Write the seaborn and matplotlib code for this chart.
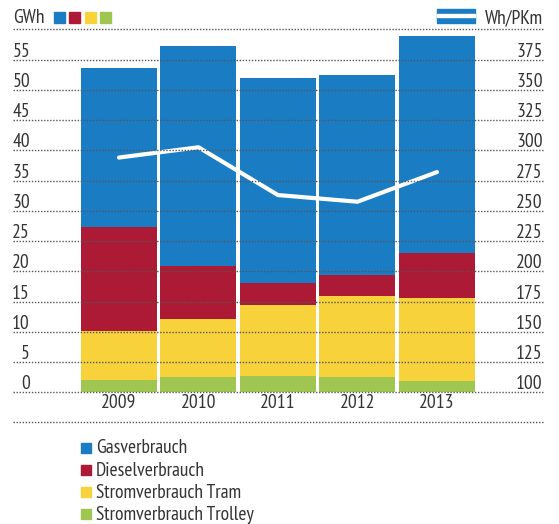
import numpy as np
import matplotlib
matplotlib.use("Agg")
import matplotlib.pyplot as plt
import matplotlib.transforms as mtransforms
from matplotlib.patches import Rectangle
from matplotlib.lines import Line2D
import seaborn as sns

# values
years = ["2009", "2010", "2011", "2012", "2013"]
gas = [26.3, 36.3, 33.85, 33.0, 35.9]
diesel = [17.2, 8.8, 3.7, 3.5, 7.4]
tram = [8.1, 9.5, 11.7, 13.3, 13.7]
trolley = [2.0, 2.6, 2.7, 2.6, 1.9]
wh_pkm = [294, 302.5, 263, 257.5, 282]

gwh_ticks = list(range(0, 60, 5))
whpkm_ticks = list(range(100, 400, 25))

series_names = ["Gasverbrauch", "Dieselverbrauch", "Stromverbrauch Tram", "Stromverbrauch Trolley"]
colors = ["#1a7dc4", "#ad1a35", "#f8d23a", "#9ec651"]
text_color = "#333333"
grid_color = "#555555"

sns.set_style("white")
plt.rcParams["font.family"] = ["PT Sans Narrow", "Liberation Sans", "DejaVu Sans"]

W, H = 559, 524
FS = 14


def fx(px):
    return px / W


def fy(py):
    return 1 - py / H


fig = plt.figure(figsize=(W / 100, H / 100), dpi=100)
ax = fig.add_axes([fx(12.7), fy(392.3), (542.7 - 12.7) / W, (392.3 - 29.3) / H])

# stacked bars: draw cumulative totals, biggest first
stack = np.cumsum([trolley, tram, diesel, gas], axis=0)
stack_colors = colors[::-1]
for i in range(3, -1, -1):
    sns.barplot(x=years, y=stack[i], color=stack_colors[i], width=0.956,
                saturation=1, errorbar=None, linewidth=0, ax=ax, zorder=2)

ax2 = ax.twinx()
sns.lineplot(x=np.arange(len(years)), y=wh_pkm, ax=ax2, color="white",
             linewidth=3, zorder=3)

ax.set_xlim(-1.337, 5.33)
ax.set_ylim(0, 60)
ax2.set_ylim(100, 400)

for a in (ax, ax2):
    for s in a.spines.values():
        s.set_visible(False)
    a.set_yticks([])
    a.set_ylabel("")
ax.set_xlabel("")

ax.set_xticks(range(len(years)))
ax.set_xticklabels(years, fontsize=FS, color=text_color)
ax.tick_params(axis="x", length=0, pad=1)

# dotted grid on top of the bars
for v in range(0, 65, 5):
    ax2.axhline(100 + 5 * v, color=grid_color, lw=1, ls=(0, (1, 1.2)),
                zorder=5, clip_on=False)

# tick labels sitting just above each gridline
left_tr = mtransforms.offset_copy(
    mtransforms.blended_transform_factory(ax.transAxes, ax.transData),
    fig=fig, y=3, units="dots")
for v in gwh_ticks:
    ax.text((30 - 12.7) / 530, v, str(v), transform=left_tr, ha="right",
            va="baseline", fontsize=FS, color=text_color)
right_tr = mtransforms.offset_copy(
    mtransforms.blended_transform_factory(ax2.transAxes, ax2.transData),
    fig=fig, y=3, units="dots")
for v in whpkm_ticks:
    ax2.text(1, v, str(v), transform=right_tr, ha="right", va="baseline",
             fontsize=FS, color=text_color)

# header: units and colour keys
fig.text(fx(13), fy(23), "GWh", ha="left", va="baseline", fontsize=FS,
         color=text_color)
for i, x0 in enumerate([54.3, 69.3, 84.8, 100.0]):
    fig.add_artist(Rectangle((fx(x0), fy(23.3)), 10.7 / W, 11 / H,
                             transform=fig.transFigure, color=colors[i]))
fig.add_artist(Rectangle((fx(436.7), fy(23)), 38.3 / W, 14 / H,
                         transform=fig.transFigure, color=colors[0]))
fig.add_artist(Rectangle((fx(436.7), fy(17)), 38.3 / W, 3 / H,
                         transform=fig.transFigure, color="white"))
fig.text(fx(543), fy(23), "Wh/PKm", ha="right", va="baseline", fontsize=FS,
         color=text_color)

# bottom separator
fig.add_artist(Line2D([fx(12.7), fx(542.7)], [fy(422.3)] * 2,
                      transform=fig.transFigure, color=grid_color, lw=1,
                      ls=(0, (1, 1.2))))

# legend
for i, name in enumerate(series_names):
    base = 453.3 + 22.2 * i
    fig.add_artist(Rectangle((fx(80.7), fy(base - 0.6)), 10.3 / W, 10 / H,
                             transform=fig.transFigure, color=colors[i]))
    fig.text(fx(96), fy(base), name, ha="left", va="baseline", fontsize=FS,
             color=text_color)

fig.savefig("out.png", dpi=100)
